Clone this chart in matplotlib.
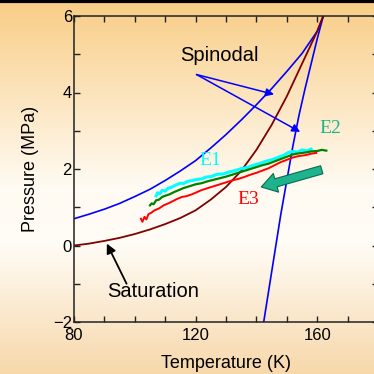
import numpy as np
import matplotlib
matplotlib.use("Agg")
import matplotlib.pyplot as plt
from matplotlib.colors import LinearSegmentedColormap

plt.rcParams["font.family"] = ["Liberation Sans", "DejaVu Sans"]

# ---- data ----
sat_T = [80, 85, 90, 95, 100, 105, 110, 115, 120, 125, 130, 135, 140, 145, 150, 155, 160, 162]
sat_P = [0.0, 0.05, 0.12, 0.2, 0.3, 0.42, 0.56, 0.72, 0.92, 1.2, 1.53, 1.95, 2.5, 3.15, 3.9, 4.75, 5.6, 6.0]

spin_up_T = [80, 85, 90, 95, 100, 105, 110, 115, 120, 125, 130, 135, 140, 145, 150, 155, 160, 162]
spin_up_P = [0.70, 0.82, 0.95, 1.1, 1.28, 1.47, 1.7, 1.95, 2.22, 2.55, 2.9, 3.28, 3.68, 4.1, 4.55, 5.02, 5.6, 6.0]

spin_st_T = [142.4, 144, 146, 148, 150, 152, 154, 156, 158, 160, 162]
spin_st_P = [-2.0, -1.2, -0.2, 0.8, 1.7, 2.6, 3.4, 4.1, 4.75, 5.4, 6.0]

e1_T = [107.0, 107.5, 108.2, 109.0, 110.0, 111.0, 112.0, 113.0, 114.0, 115.0, 116.0, 117.5,
        119.0, 120.5, 122.0, 123.5, 125.0, 127.0, 129.0, 131.0, 133.0, 135.0, 137.0, 139.0,
        141.0, 143.0, 145.0, 147.0, 149.0, 150.5, 152.0, 153.5, 155.0, 156.5, 158.0]
e1_P = [1.30, 1.38, 1.35, 1.44, 1.42, 1.50, 1.52, 1.56, 1.60, 1.63, 1.62, 1.68,
        1.70, 1.73, 1.74, 1.79, 1.80, 1.86, 1.87, 1.92, 1.96, 2.01, 2.04, 2.10,
        2.14, 2.20, 2.24, 2.30, 2.36, 2.43, 2.46, 2.44, 2.50, 2.47, 2.52]

e2_T = [105.0, 105.5, 106.2, 107.0, 108.0, 109.0, 110.0, 111.5, 113.0, 114.5, 116.0, 118.0,
        120.0, 122.0, 124.0, 126.0, 128.0, 130.0, 132.0, 134.0, 136.0, 138.0, 140.0, 142.0,
        144.0, 146.0, 148.0, 150.0, 152.0, 154.0, 156.0, 158.0, 160.0, 161.5, 163.0]
e2_P = [1.05, 1.10, 1.08, 1.18, 1.20, 1.27, 1.30, 1.34, 1.40, 1.45, 1.50, 1.55,
        1.60, 1.63, 1.68, 1.72, 1.76, 1.80, 1.85, 1.90, 1.95, 2.00, 2.05, 2.10,
        2.14, 2.20, 2.26, 2.32, 2.38, 2.41, 2.43, 2.46, 2.47, 2.50, 2.48]

e3_T = [102.0, 102.5, 103.2, 103.8, 104.5, 105.5, 106.5, 108.0, 109.5, 111.0, 112.5, 114.0,
        115.5, 117.0, 118.5, 120.0, 122.0, 124.0, 126.0, 128.0, 130.0, 132.0, 134.0, 136.0,
        138.0, 140.0, 142.0, 144.0, 146.0, 148.0, 150.0, 152.0, 154.0, 156.0, 158.0, 159.7]
e3_P = [0.70, 0.62, 0.75, 0.68, 0.82, 0.86, 0.92, 0.97, 1.05, 1.10, 1.16, 1.22,
        1.27, 1.29, 1.33, 1.38, 1.45, 1.50, 1.55, 1.60, 1.65, 1.70, 1.74, 1.79,
        1.85, 1.90, 1.96, 2.02, 2.10, 2.18, 2.24, 2.30, 2.34, 2.36, 2.40, 2.42]

x_ticks = [80, 120, 160]
y_ticks = [-2, 0, 2, 4, 6]

blue = "#0000ff"
maroon = "#800000"
teal = "#1db38c"

fig = plt.figure(figsize=(3.74, 3.74), dpi=100)

# background gradient over the whole figure
bg = fig.add_axes([0, 0, 1, 1], zorder=-10)
grad = LinearSegmentedColormap.from_list(
    "bg", [(0.0, "#f7d8ab"), (0.35, "#fffcf6"), (0.5, "#fffbf3"), (1.0, "#f9cd86")])
bg.imshow(np.linspace(0, 1, 256).reshape(-1, 1), aspect="auto", cmap=grad,
          origin="lower", extent=[0, 1, 0, 1])
bg.set_axis_off()
fig.add_artist(plt.Line2D([0, 1], [0.996, 0.996], transform=fig.transFigure,
                          color="black", lw=3))

ax = fig.add_axes([74 / 374, 52 / 374, 304 / 374, 306 / 374])
ax.set_facecolor("none")

ax.plot(spin_up_T, spin_up_P, color=blue, lw=1.2)
ax.plot(spin_st_T, spin_st_P, color=blue, lw=1.2)
ax.plot(sat_T, sat_P, color=maroon, lw=1.3)

ax.plot(e1_T, e1_P, color="#00ffff", lw=2.2)
ax.plot(e2_T, e2_P, color="#008000", lw=1.6)
ax.plot(e3_T, e3_P, color="#ff0000", lw=1.4)

ax.set_xlim(80, 180)
ax.set_ylim(-2, 6)
ax.set_xticks(x_ticks)
ax.set_xticks(np.arange(80, 181, 10), minor=True)
ax.set_yticks(y_ticks)
ax.set_yticks(np.arange(-2, 7, 1), minor=True)
ax.tick_params(which="both", direction="in", top=True, right=True,
               length=4.5, width=1, color="#222222")
ax.tick_params(axis="x", labelsize=12, pad=4)
ax.tick_params(axis="y", labelsize=12, pad=1.5)
for s in ax.spines.values():
    s.set_linewidth(1.1)
    s.set_color("#222222")

ax.set_xlabel("Temperature (K)", fontsize=13, labelpad=9)
ax.set_ylabel("Pressure (MPa)", fontsize=13, labelpad=10)

# annotations
ax.annotate("", xy=(145.8, 3.95), xytext=(120.3, 4.47),
            arrowprops=dict(arrowstyle="-|>", color=blue, lw=1.1, mutation_scale=12,
                            shrinkA=0, shrinkB=0))
ax.annotate("", xy=(154.4, 2.97), xytext=(120.3, 4.47),
            arrowprops=dict(arrowstyle="-|>", color=blue, lw=1.1, mutation_scale=12,
                            shrinkA=0, shrinkB=0))
ax.text(127.8, 4.98, "Spinodal", fontsize=14.5, ha="center", va="center")

ax.annotate("", xy=(90.8, 0.05), xytext=(97.3, -1.0),
            arrowprops=dict(arrowstyle="-|>", color="black", lw=1.3, mutation_scale=14,
                            shrinkA=0, shrinkB=0))
ax.text(106.1, -1.21, "Saturation", fontsize=14.5, ha="center", va="center")

serif = "Liberation Serif"
ax.text(125.0, 2.23, "E1", color="#00ffff", fontsize=14, family=serif, ha="center", va="center")
ax.text(164.2, 3.05, "E2", color=teal, fontsize=14, family=serif, ha="center", va="center")
ax.text(137.2, 1.20, "E3", color="#ff0000", fontsize=14, family=serif, ha="center", va="center")

ax.annotate("", xy=(141.6, 1.53), xytext=(161.5, 1.98),
            arrowprops=dict(arrowstyle="simple,head_width=1.4,head_length=1.1,tail_width=0.6",
                            mutation_scale=10, facecolor=teal, edgecolor="#0b6b4f",
                            lw=0.8, shrinkA=0, shrinkB=0), zorder=5)

fig.savefig("out.png", dpi=100)
